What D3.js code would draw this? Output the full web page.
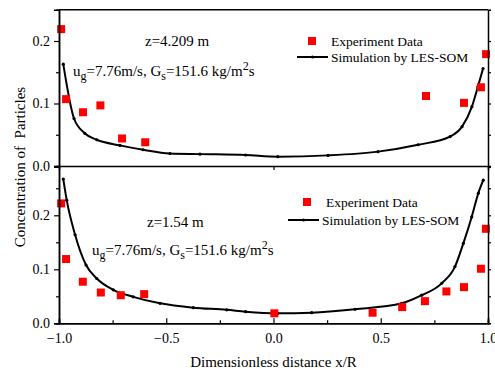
<!DOCTYPE html>
<html>
<head>
<meta charset="utf-8">
<script src="https://cdn.jsdelivr.net/npm/d3@7"></script>
<style>
  body { margin: 0; background: #fff; }
  text { font-family: "Liberation Serif", "Times New Roman", serif; }
</style>
</head>
<body>
<div class="canvas"></div>
<script>
// data
const xTicks = [-1.0, -0.5, 0.0, 0.5, 1.0];
const yTicks = [0.0, 0.1, 0.2];

// top panel, z=4.209 m
const expTopX = [-0.99, -0.967, -0.888, -0.807, -0.706, -0.598, 0.711, 0.888, 0.967, 0.991];
const expTopY = [0.219, 0.107, 0.086, 0.097, 0.044, 0.038, 0.112, 0.101, 0.126, 0.179];
const simTopX = [-0.98, -0.93, -0.879, -0.824, -0.716, -0.608, -0.483, -0.343, -0.13, 0.02, 0.254, 0.487, 0.674, 0.823, 0.879, 0.925, 0.953, 0.977];
const simTopY = [0.163, 0.076, 0.052, 0.042, 0.033, 0.026, 0.020, 0.019, 0.0176, 0.015, 0.017, 0.023, 0.034, 0.047, 0.063, 0.095, 0.127, 0.156];

// bottom panel, z=1.54 m
const expBotX = [-0.99, -0.967, -0.889, -0.805, -0.712, -0.603, 0.004, 0.462, 0.600, 0.706, 0.806, 0.888, 0.967, 0.990];
const expBotY = [0.222, 0.119, 0.077, 0.057, 0.052, 0.054, 0.0185, 0.0196, 0.030, 0.041, 0.059, 0.067, 0.101, 0.175];
const simBotX = [-0.98, -0.964, -0.925, -0.874, -0.824, -0.747, -0.654, -0.529, -0.374, -0.218, -0.13, 0.02, 0.178, 0.38, 0.598, 0.691, 0.784, 0.846, 0.885, 0.924, 0.955, 0.978];
const simBotY = [0.267, 0.228, 0.164, 0.108, 0.083, 0.062, 0.049, 0.037, 0.029, 0.025, 0.0215, 0.0185, 0.0196, 0.026, 0.037, 0.052, 0.074, 0.105, 0.148, 0.197, 0.241, 0.265];

const svg = d3.select('.canvas')
    .append('svg')
    .attr('width', 495)
    .attr('height', 381)

const left = 59, right = 488;

const x = d3.scaleLinear()
    .domain([-1, 1])
    .range([left, right]);

const panels = [
    { ex: expTopX, ey: expTopY, sx: simTopX, sy: simTopY, domain: [0, 0.25], range: [166, 9.75],
      z: 'z=4.209 m', zPos: [145, 46], uPos: [73, 76], legend: [312, 41, 297, 57], bottom: false },
    { ex: expBotX, ey: expBotY, sx: simBotX, sy: simBotY, domain: [0, 0.29], range: [323.3, 166.7],
      z: 'z=1.54 m', zPos: [147, 227], uPos: [92, 255], legend: [307, 202, 288, 220], bottom: true }
];

panels.forEach(p => {
    const y = d3.scaleLinear().domain(p.domain).range(p.range);
    const g = svg.append('g');

    // simulation line
    const line = d3.line()
        .x(i => x(p.sx[i]))
        .y(i => y(p.sy[i]))
        .curve(d3.curveMonotoneX);
    const idx = d3.range(p.sx.length);
    g.append('path')
        .attr('d', line(idx))
        .attr('fill', 'none')
        .attr('stroke', '#000')
        .attr('stroke-width', 2);
    g.selectAll('circle.sim')
        .data(idx)
        .enter()
        .append('circle')
        .attr('cx', i => x(p.sx[i]))
        .attr('cy', i => y(p.sy[i]))
        .attr('r', 1.6)
        .attr('fill', '#000');

    // experiment squares
    g.selectAll('rect.exp')
        .data(d3.range(p.ex.length))
        .enter()
        .append('rect')
        .attr('x', i => x(p.ex[i]) - 4)
        .attr('y', i => y(p.ey[i]) - 4)
        .attr('width', 8)
        .attr('height', 8)
        .attr('fill', '#ff0000');

    // axes
    const yAxis = d3.axisLeft(y).tickValues(yTicks).tickSize(5).tickPadding(4).tickFormat(d3.format('.1f'));
    const yMinor = d3.axisLeft(y).tickValues([0.05, 0.15, 0.25].filter(v => v < p.domain[1])).tickSize(3).tickFormat('');
    const yRight = d3.axisRight(y).tickValues(yTicks.concat([0.05, 0.15, 0.25]).filter(v => v > 0 && v < p.domain[1])).tickSize(3).tickFormat('');

    g.append('g').attr('transform', `translate(${left},0)`).call(yAxis);
    g.append('g').attr('transform', `translate(${left},0)`).call(yMinor);
    g.append('g').attr('transform', `translate(${right},0)`).call(yRight);

    if (p.bottom) {
        g.append('g').attr('transform', `translate(0,${p.range[0]})`)
            .call(d3.axisBottom(x).tickValues(xTicks).tickSize(-5).tickPadding(10).tickFormat(d3.format('.1f')));
        g.append('g').attr('transform', `translate(0,${p.range[0]})`)
            .call(d3.axisBottom(x).tickValues([-0.75, -0.25, 0.25, 0.75]).tickSize(-3).tickFormat(''));
    } else {
        g.append('g').attr('transform', `translate(0,${p.range[0]})`)
            .call(d3.axisBottom(x).tickValues([0]).tickSize(4).tickFormat(''));
        // top frame line
        g.append('line')
            .attr('x1', left).attr('x2', right)
            .attr('y1', p.range[1]).attr('y2', p.range[1])
            .attr('stroke', '#000').attr('stroke-width', 1.5);
    }

    g.selectAll('.domain').attr('stroke-width', 1.5);
    g.selectAll('.tick line').attr('stroke-width', 1.2);
    g.selectAll('.tick text').attr('font-size', '14px').attr('font-family', 'Liberation Serif');

    // annotations
    g.append('text')
        .attr('x', p.zPos[0]).attr('y', p.zPos[1])
        .attr('font-size', '15px')
        .text(p.z);

    const u = g.append('text')
        .attr('x', p.uPos[0]).attr('y', p.uPos[1])
        .attr('font-size', '15px');
    u.append('tspan').text('u');
    u.append('tspan').attr('dy', 4).attr('font-size', '12px').text('g');
    u.append('tspan').attr('dy', -4).text('=7.76m/s, G');
    u.append('tspan').attr('dy', 4).attr('font-size', '12px').text('s');
    u.append('tspan').attr('dy', -4).text('=151.6 kg/m');
    u.append('tspan').attr('dy', -6).attr('font-size', '12px').text('2');
    u.append('tspan').attr('dy', 6).text('s');

    // legend
    const [sqX, sqY, lnX, lnY] = p.legend;
    g.append('rect')
        .attr('x', sqX - 4).attr('y', sqY - 4)
        .attr('width', 8).attr('height', 8)
        .attr('fill', '#ff0000');
    g.append('text')
        .attr('x', sqX + 19).attr('y', sqY + 4.5)
        .attr('font-size', '13.5px')
        .text('Experiment Data');
    g.append('line')
        .attr('x1', lnX).attr('x2', lnX + 31)
        .attr('y1', lnY).attr('y2', lnY)
        .attr('stroke', '#000').attr('stroke-width', 2);
    g.append('circle')
        .attr('cx', lnX + 15.5).attr('cy', lnY).attr('r', 1.6).attr('fill', '#000');
    g.append('text')
        .attr('x', lnX + 34).attr('y', lnY + 4.5)
        .attr('font-size', '13.5px')
        .text('Simulation by LES-SOM');
});

// axis titles
svg.append('text')
    .attr('x', (left + right) / 2)
    .attr('y', 367)
    .attr('text-anchor', 'middle')
    .attr('font-size', '15px')
    .text('Dimensionless distance x/R');

svg.append('text')
    .attr('transform', 'translate(25,167) rotate(-90)')
    .attr('text-anchor', 'middle')
    .attr('font-size', '15px')
    .attr('xml:space', 'preserve')
    .text('Concentration of  Particles');
</script>
</body>
</html>
